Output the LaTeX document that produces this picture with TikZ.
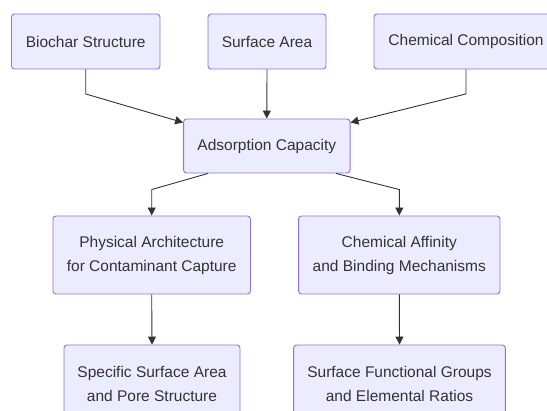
\documentclass[tikz,border=0pt]{standalone}
\usepackage{fontspec}
\setmainfont{Liberation Sans}
\usepackage{tikz}
\usetikzlibrary{arrows.meta,positioning,calc}
\definecolor{boxfill}{HTML}{ECECFF}
\definecolor{boxline}{HTML}{9370DB}
\definecolor{ink}{HTML}{333333}

\begin{document}
\begin{tikzpicture}[x=1pt,y=-1pt,
  box/.style={draw=boxline,fill=boxfill,rounded corners=3pt,line width=0.9pt,text=ink,
    font=\fontsize{15.5}{24}\selectfont,align=center,inner sep=0pt,minimum height=55pt},
  tall/.style={box,minimum height=78pt},
  link/.style={draw=ink,line width=0.9pt,-{Triangle[length=8pt,width=8pt]}}]
\useasboundingbox (0,0) rectangle (547,411);

\node (bio) at (85.7,41.5) [box,minimum width=148.5pt] {Biochar Structure};
\node (surf) at (267,41.5) [box,minimum width=118pt] {Surface Area};
\node (chem) at (466,41.5) [box,minimum width=184pt] {Chemical Composition};

\node (ads) at (266.8,146) [box,minimum width=166.5pt,minimum height=54pt] {Adsorption Capacity};

\node (phys) at (151.7,255) [tall,minimum width=197.5pt] {Physical Architecture\\for Contaminant Capture};
\node (aff) at (399.3,255) [tall,minimum width=201.4pt] {Chemical Affinity\\and Binding Mechanisms};

\node (spec) at (152,384) [tall,minimum width=176pt] {Specific Surface Area\\and Pore Structure};
\node (func) at (399.5,384) [tall,minimum width=211.7pt] {Surface Functional Groups\\and Elemental Ratios};

\draw[link] (bio.south) -- ([yshift=-24.5pt]bio.south) -- ([yshift=-4pt]ads.north west);
\draw[link] (surf.south) -- (ads.north);
\draw[link] (chem.south) -- ([yshift=-24.5pt]chem.south) -- ([yshift=-4pt]ads.north east);

\draw[link] ([xshift=-58.8pt]ads.south) -- ([yshift=26pt]phys.north) -- (phys.north);
\draw[link] ([xshift=69.2pt]ads.south) -- ([yshift=26pt]aff.north) -- (aff.north);

\draw[link] (phys.south) -- (spec.north);
\draw[link] (aff.south) -- (func.north);
\end{tikzpicture}
\end{document}
